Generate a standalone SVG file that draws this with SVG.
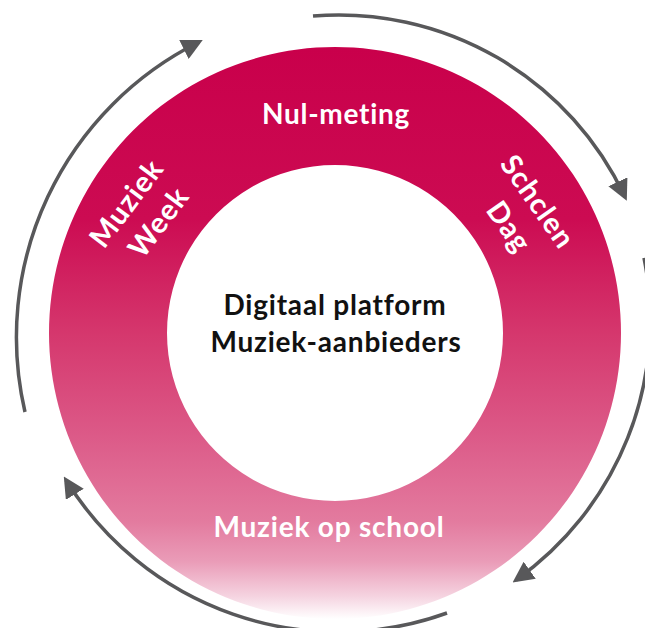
<svg xmlns="http://www.w3.org/2000/svg" width="645" height="628" viewBox="0 0 645 628">
  <defs>
    <linearGradient id="ringGrad" gradientUnits="userSpaceOnUse" x1="0" y1="47" x2="0" y2="619">
      <stop offset="0" stop-color="#C9004B"/>
      <stop offset="0.3" stop-color="#CC0B52"/>
      <stop offset="0.5" stop-color="#D5376D"/>
      <stop offset="0.68" stop-color="#DC5A88"/>
      <stop offset="0.83" stop-color="#E37B9F"/>
      <stop offset="0.9" stop-color="#EA9CB8"/>
      <stop offset="0.96" stop-color="#F5D3E0"/>
      <stop offset="1" stop-color="#FFFFFF"/>
    </linearGradient>
    <marker id="arrow" viewBox="0 0 10 10" markerUnits="userSpaceOnUse" markerWidth="21" markerHeight="21" refX="8" refY="5" orient="auto">
      <path d="M0,0 L10,5 L0,10 z" fill="#58585A"/>
    </marker>
  </defs>
  <style>
    .arc { fill: none; stroke: #58585A; stroke-width: 3.5; marker-end: url(#arrow); }
    .lbl { font-family: Lato, "Open Sans", "Liberation Sans", sans-serif; font-weight: bold; fill: #FFFFFF; text-anchor: middle; }
    .ctr { font-family: Lato, "Open Sans", "Liberation Sans", sans-serif; font-weight: bold; fill: #111111; text-anchor: middle; font-size: 28px; letter-spacing: 0.8px; }
  </style>
  <rect width="645" height="628" fill="#FFFFFF"/>

  <g id="ring">
    <path d="M335,47 A286,286 0 1 1 334.99,47 Z M335,165 A168,168 0 1 0 335.01,165 Z" fill="url(#ringGrad)" fill-rule="evenodd"/>
  </g>

  <g id="connectors">
    <path class="arc" d="M313,16 A316,316 0 0 1 625,197"/>
    <path class="arc" d="M644,258 A318,318 0 0 1 516,580"/>
    <path class="arc" d="M447,613 A320,320 0 0 1 66,480"/>
    <path class="arc" d="M25,412 A330,330 0 0 1 199,42"/>
  </g>

  <g id="nul-meting">
    <text class="lbl" x="336" y="124" font-size="28" letter-spacing="0.7">Nul-meting</text>
  </g>

  <g id="schclen-dag">
    <text class="lbl" font-size="29" letter-spacing="1" transform="translate(540,205) rotate(55)">
      <tspan x="0" y="10">Schclen</tspan>
      <tspan x="0" y="48">Dag</tspan>
    </text>
  </g>

  <g id="muziek-week">
    <text class="lbl" font-size="29" letter-spacing="1" transform="translate(129,200) rotate(-53)">
      <tspan x="0" y="10">Muziek</tspan>
      <tspan x="0" y="47">Week</tspan>
    </text>
  </g>

  <g id="muziek-op-school">
    <text class="lbl" x="329" y="537" font-size="28" letter-spacing="0.8">Muziek op school</text>
  </g>

  <g id="platform">
    <text class="ctr" x="335" y="315">Digitaal platform</text>
    <text class="ctr" x="336" y="352">Muziek-aanbieders</text>
  </g>
</svg>
